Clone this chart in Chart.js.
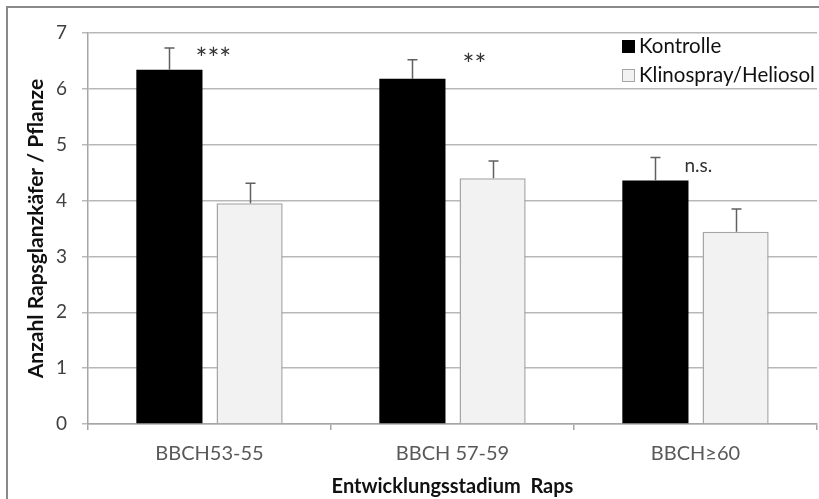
<!DOCTYPE html>
<html>
<head>
<meta charset="utf-8">
<script src="https://cdn.jsdelivr.net/npm/chart.js@4/dist/chart.umd.min.js"></script>
<style>
  html, body { margin: 0; padding: 0; background: #fff; }
  #wrap { width: 819px; height: 499px; position: relative; }
</style>
</head>
<body>
<div id="wrap"><canvas id="c" width="819" height="499"></canvas></div>
<script>
// Stadien und Mittelwerte (Käfer je Pflanze) mit Standardfehler
const stages = ['BBCH53-55', 'BBCH 57-59', 'BBCH\u226560'];
const kontrolle = [6.34, 6.18, 4.36];
const kontrolleErr = [0.39, 0.34, 0.41];
const klinospray = [3.95, 4.40, 3.44];
const klinosprayErr = [0.36, 0.31, 0.41];
const signif = ['***', '**', 'n.s.'];
const yTicks = [0, 1, 2, 3, 4, 5, 6, 7];

const FONT = 'Lato, "Open Sans", sans-serif';

// Fehlerbalken (nur nach oben) mit Querstrich
const errorBars = {
  id: 'errorBars',
  afterDatasetsDraw(chart) {
    const ctx = chart.ctx;
    const y = chart.scales.y;
    chart.data.datasets.forEach((ds, i) => {
      const meta = chart.getDatasetMeta(i);
      meta.data.forEach((bar, j) => {
        const top = y.getPixelForValue(ds.data[j] + ds.errors[j]);
        const x = Math.round(bar.x) + 0.5;
        ctx.save();
        ctx.strokeStyle = '#606060';
        ctx.lineWidth = 1.5;
        ctx.beginPath();
        ctx.moveTo(x, bar.y);
        ctx.lineTo(x, top);
        ctx.moveTo(x - 5, top);
        ctx.lineTo(x + 5, top);
        ctx.stroke();
        ctx.restore();
      });
    });
  }
};

// Signifikanzangaben neben den Kontrollbalken
const sigLabels = {
  id: 'sigLabels',
  afterDatasetsDraw(chart) {
    const ctx = chart.ctx;
    const y = chart.scales.y;
    const meta = chart.getDatasetMeta(0);
    const ds = chart.data.datasets[0];
    const dx = [-7, 17, -4];
    const dy = [12, 6, 8];
    ctx.save();
    ctx.fillStyle = '#333';
    ctx.textAlign = 'left';
    signif.forEach((s, j) => {
      const bar = meta.data[j];
      const top = y.getPixelForValue(ds.data[j] + ds.errors[j]);
      const isStar = s.indexOf('*') >= 0;
      const x = bar.x + bar.width / 2 + dx[j];
      if (isStar) {
        ctx.font = '28px ' + FONT;
        ctx.textBaseline = 'top';
        ctx.fillText(s, x, top + dy[j] - 14);
      } else {
        ctx.font = '19px ' + FONT;
        ctx.textBaseline = 'middle';
        ctx.fillText(s, x, top + dy[j]);
      }
    });
    ctx.restore();
  }
};

// Legende oben rechts im Diagramm
const legendBox = {
  id: 'legendBox',
  afterDraw(chart) {
    const ctx = chart.ctx;
    const items = chart.data.datasets;
    const x0 = 622, y0 = 46, step = 29;
    ctx.save();
    ctx.font = '20.5px ' + FONT;
    ctx.textBaseline = 'middle';
    ctx.textAlign = 'left';
    items.forEach((ds, i) => {
      const yy = y0 + i * step;
      ctx.fillStyle = ds.backgroundColor;
      ctx.fillRect(x0, yy - 6, 13, 13);
      if (ds.borderWidth) {
        ctx.strokeStyle = ds.borderColor;
        ctx.lineWidth = 1;
        ctx.strokeRect(x0 + 0.5, yy - 5.5, 12, 12);
      }
      ctx.fillStyle = '#111';
      ctx.fillText(ds.label, x0 + 17, yy);
    });
    ctx.restore();
  }
};

// Rahmen um die gesamte Grafik
const outerFrame = {
  id: 'outerFrame',
  beforeDraw(chart) {
    const ctx = chart.ctx;
    ctx.save();
    ctx.fillStyle = '#fff';
    ctx.fillRect(0, 0, chart.width, chart.height);
    ctx.strokeStyle = '#8a8a8a';
    ctx.lineWidth = 2;
    ctx.strokeRect(7, 7, 900, 600);
    ctx.restore();
  }
};

new Chart(document.getElementById('c'), {
  type: 'bar',
  data: {
    labels: stages,
    datasets: [
      {
        label: 'Kontrolle',
        data: kontrolle,
        errors: kontrolleErr,
        backgroundColor: '#000000',
        borderWidth: 0
      },
      {
        label: 'Klinospray/Heliosol',
        data: klinospray,
        errors: klinosprayErr,
        backgroundColor: '#f2f2f2',
        borderColor: '#a6a6a6',
        borderWidth: 1.5
      }
    ]
  },
  options: {
    responsive: false,
    animation: false,
    devicePixelRatio: 1,
    layout: { padding: { left: 24, right: 2, top: 33, bottom: 0 } },
    datasets: { bar: { categoryPercentage: 0.66, barPercentage: 0.825 } },
    plugins: {
      legend: { display: false },
      tooltip: { enabled: false }
    },
    scales: {
      x: {
        grid: {
          offset: true,
          drawOnChartArea: false,
          drawTicks: true,
          tickLength: 6,
          color: '#a6a6a6',
          lineWidth: 1.5
        },
        border: { color: '#a6a6a6', width: 1.5 },
        ticks: {
          color: '#595959',
          font: { family: FONT, size: 20 },
          padding: 12
        },
        title: {
          display: true,
          text: 'Entwicklungsstadium  Raps',
          color: '#111',
          font: { family: FONT, size: 20, weight: 'bold' },
          padding: { top: 0, bottom: 0 }
        },
        afterFit(scale) { scale.height = 499 - 424; }
      },
      y: {
        min: 0,
        max: 7,
        afterBuildTicks(scale) { scale.ticks = yTicks.map(v => ({ value: v })); },
        grid: {
          color: '#b8b8b8',
          lineWidth: 1.5,
          tickLength: 6
        },
        border: { color: '#a6a6a6', width: 1.5 },
        ticks: {
          color: '#404040',
          font: { family: FONT, size: 19 },
          padding: 15
        },
        title: {
          display: true,
          text: 'Anzahl Rapsglanzkäfer / Pflanze',
          color: '#111',
          font: { family: FONT, size: 21, weight: 'bold' },
          padding: { top: 0, bottom: 0 }
        },
        afterFit(scale) { scale.width = 88 - 24; }
      }
    }
  },
  plugins: [outerFrame, errorBars, sigLabels, legendBox]
});
</script>
</body>
</html>
